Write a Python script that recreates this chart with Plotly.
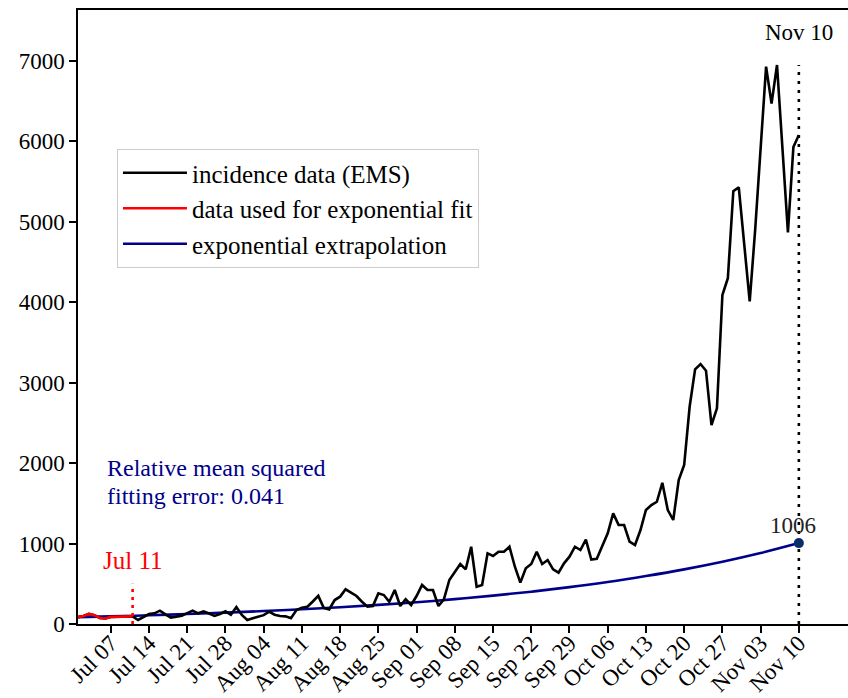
import plotly.graph_objects as go
import pandas as pd

# ---------------- data ----------------
start_date = "2020-07-01"
fit_end_date = "2020-07-11"
end_date = "2020-11-10"

# daily incidence, Jul 01 - Jul 11 (used for the exponential fit)
fit_values = [85, 100, 125, 110, 75, 68, 88, 92, 94, 93, 95]
# daily incidence, Jul 12 - Nov 10
later_values = [50, 90, 124, 133, 166, 120, 79, 92, 104, 135,
                166, 133, 158, 130, 100, 125, 158, 115, 210, 112,
                50, 72, 90, 110, 153, 115, 100, 95, 71, 174,
                203, 215, 280, 350, 200, 180, 298, 340, 431, 385,
                348, 277, 215, 224, 381, 360, 277, 423, 224, 307,
                236, 348, 485, 423, 423, 224, 307, 547, 650, 746,
                680, 961, 464, 485, 878, 845, 899, 899, 961, 712,
                514, 692, 746, 899, 746, 795, 680, 638, 754, 837,
                961, 920, 1050, 800, 810, 960, 1127, 1376, 1230, 1230,
                1023, 982, 1168, 1417, 1479, 1520, 1756, 1417, 1293, 1790,
                1976, 2701, 3166, 3232, 3149, 2474, 2681, 4090, 4300, 5380,
                5430, 4720, 4010, 4900, 5850, 6930, 6470, 6950, 5910, 4870, 5930, 6080]

# exponential extrapolation read at weekly points
blue_dates = ["2020-07-01", "2020-07-07", "2020-07-14", "2020-07-21", "2020-07-28",
              "2020-08-04", "2020-08-11", "2020-08-18", "2020-08-25", "2020-09-01",
              "2020-09-08", "2020-09-15", "2020-09-22", "2020-09-29", "2020-10-06",
              "2020-10-13", "2020-10-20", "2020-10-27", "2020-11-03", "2020-11-10"]
blue_values = [85, 95, 108, 124, 141, 161, 183, 209, 238, 271,
               309, 353, 402, 458, 522, 596, 679, 774, 882, 1006]

tick_dates = blue_dates[1:]
tick_labels = ["Jul 07", "Jul 14", "Jul 21", "Jul 28", "Aug 04", "Aug 11", "Aug 18",
               "Aug 25", "Sep 01", "Sep 08", "Sep 15", "Sep 22", "Sep 29", "Oct 06",
               "Oct 13", "Oct 20", "Oct 27", "Nov 03", "Nov 10"]
y_ticks = [0, 1000, 2000, 3000, 4000, 5000, 6000, 7000]

fit_marker_height = 500
error_text = ["Relative mean squared", "fitting error: 0.041"]

# ---------------- figure ----------------
all_values = fit_values + later_values
all_dates = pd.date_range(start_date, periods=len(all_values), freq="D")
fit_dates = all_dates[:len(fit_values)]

FONT = "Liberation Serif, Times New Roman, serif"
FS = 23
FT = 25
FE = 24
NAVY = "#00008b"

fig = go.Figure()

fig.add_trace(go.Scatter(x=blue_dates, y=blue_values, mode="lines",
                         line=dict(color=NAVY, width=2.6, shape="spline"),
                         name="exponential extrapolation", legendrank=3))
fig.add_trace(go.Scatter(x=all_dates, y=all_values, mode="lines",
                         line=dict(color="black", width=2.6),
                         name="incidence data (EMS)", legendrank=1))
fig.add_trace(go.Scatter(x=fit_dates, y=fit_values, mode="lines",
                         line=dict(color="red", width=2.6),
                         name="data used for exponential fit", legendrank=2))
# vertical dotted markers
fig.add_trace(go.Scatter(x=[fit_end_date, fit_end_date], y=[0, fit_marker_height],
                         mode="lines", line=dict(color="red", width=2.6, dash="3px,5px"),
                         showlegend=False, hoverinfo="skip"))
fig.add_trace(go.Scatter(x=[end_date, end_date], y=[0, max(all_values)],
                         mode="lines", line=dict(color="black", width=2.6, dash="3px,6px"),
                         showlegend=False, hoverinfo="skip"))
fig.add_trace(go.Scatter(x=[blue_dates[-1]], y=[blue_values[-1]], mode="markers",
                         marker=dict(color="#0b2d6e", size=10),
                         showlegend=False, hoverinfo="skip"))

annos = [
    dict(x=end_date, y=7350, text="Nov 10", showarrow=False,
         font=dict(family=FONT, size=FS, color="black"), xanchor="center", yanchor="middle"),
    dict(x=blue_dates[-1], y=blue_values[-1], text=str(blue_values[-1]), showarrow=False,
         font=dict(family=FONT, size=FS, color="#222"), xanchor="center", yanchor="bottom",
         xshift=-6, yshift=3),
    dict(x=fit_end_date, y=795, text="Jul 11", showarrow=False,
         font=dict(family=FONT, size=FT, color="red"), xanchor="center", yanchor="middle"),
    dict(x="2020-07-06", y=1940, text=error_text[0], showarrow=False,
         font=dict(family=FONT, size=FE, color=NAVY), xanchor="left", yanchor="middle"),
    dict(x="2020-07-06", y=1590, text=error_text[1], showarrow=False,
         font=dict(family=FONT, size=FE, color=NAVY), xanchor="left", yanchor="middle"),
]

fig.update_layout(
    width=848, height=698,
    margin=dict(l=78, r=0, t=10, b=74),
    paper_bgcolor="white", plot_bgcolor="white",
    font=dict(family=FONT, size=FS, color="black"),
    annotations=annos,
    legend=dict(x=0.0506, y=0.7736, xanchor="left", yanchor="top",
                itemwidth=64,
                bgcolor="rgba(255,255,255,0.85)", bordercolor="#cccccc", borderwidth=1,
                font=dict(family=FONT, size=FT, color="black")),
    xaxis=dict(type="date", range=["2020-07-01", "2020-11-19"],
               tickvals=tick_dates, ticktext=tick_labels, tickangle=-45,
               showline=True, linecolor="black", linewidth=1.5, mirror=True,
               ticks="outside", ticklen=7, tickwidth=1.5, tickcolor="black",
               ticklabelstandoff=-12,
               showgrid=False, zeroline=False, automargin=False,
               tickfont=dict(family=FONT, size=FS, color="black")),
    yaxis=dict(range=[0, 7634], tickvals=y_ticks,
               showline=True, linecolor="black", linewidth=1.5,
               ticks="outside", ticklen=7, tickwidth=1.5, tickcolor="black",
               showgrid=False, zeroline=False, automargin=False,
               tickfont=dict(family=FONT, size=FS, color="black")),
)

fig.write_html("out.html")
